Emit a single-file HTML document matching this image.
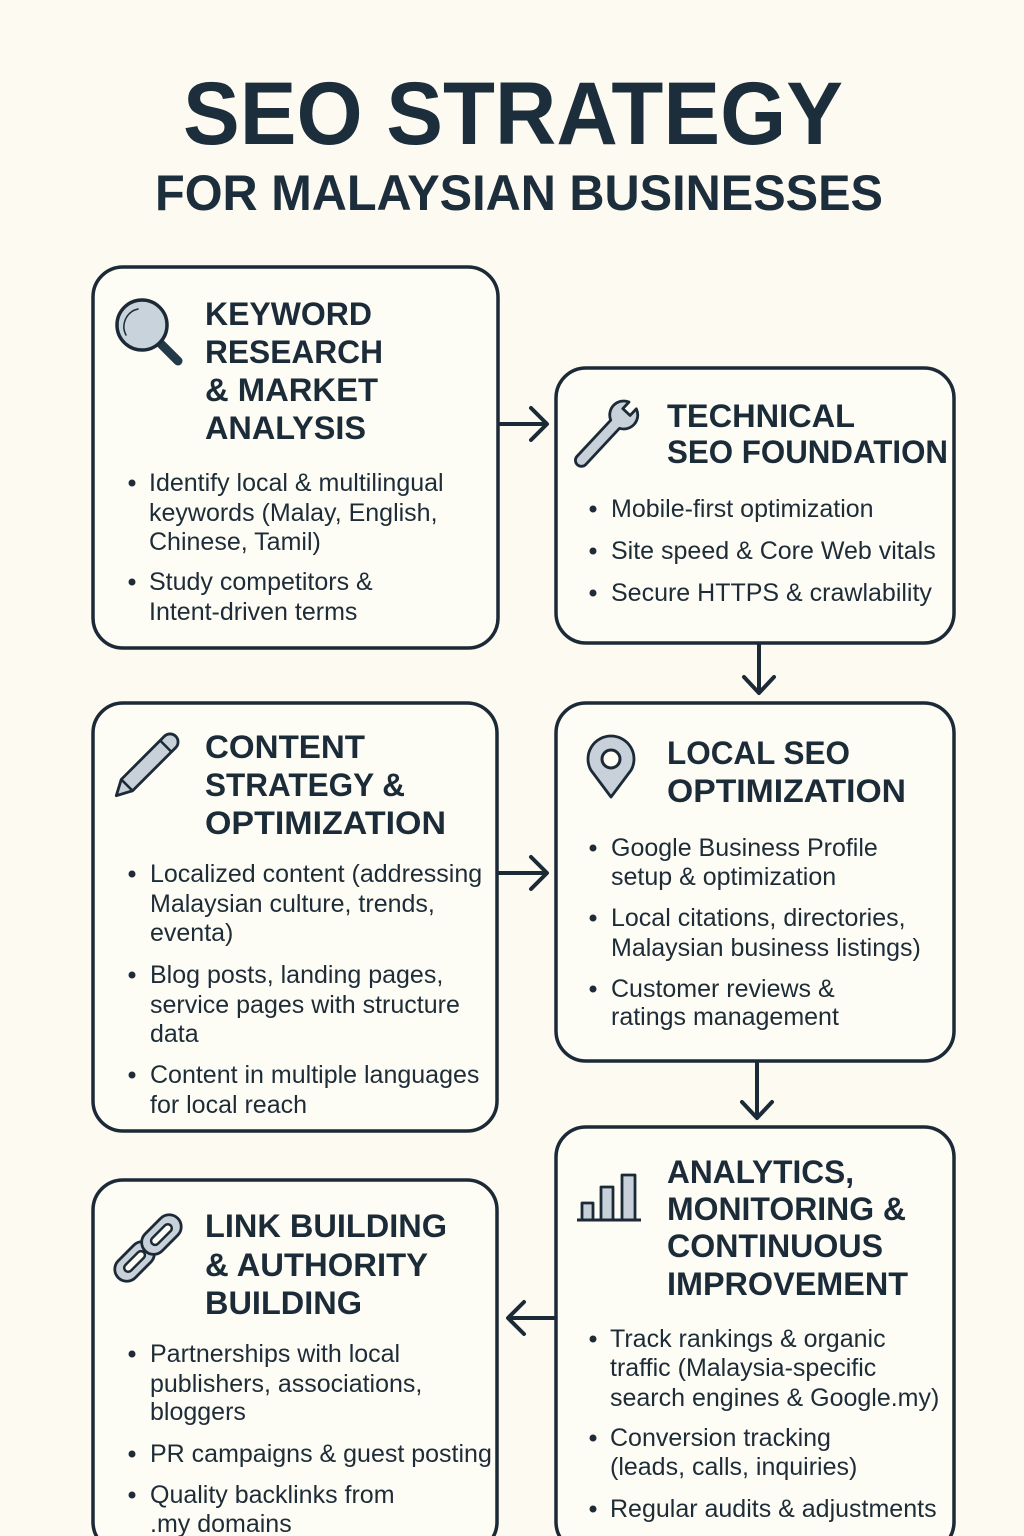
<!DOCTYPE html>
<html>
<head>
<meta charset="utf-8">
<style>
  html,body{margin:0;padding:0;background:#fcfaf1;}
  svg{display:block;}
  .h{font-family:"Liberation Sans",Arial,sans-serif;font-weight:bold;font-size:32px;fill:#1c2b38;}
  .b{font-family:"Liberation Sans",Arial,sans-serif;font-size:25px;fill:#1e2c38;}
  .box{fill:#fdfcf5;stroke:#1b2a36;stroke-width:3.5;}
  .ar{fill:none;stroke:#1b2a36;stroke-width:4;stroke-linecap:round;stroke-linejoin:round;}
  .ic{fill:#c8d1d9;stroke:#1b2a36;stroke-width:2.8;stroke-linejoin:round;}
  .dot{fill:#1e2c38;}
</style>
</head>
<body>
<svg width="1024" height="1536" viewBox="0 0 1024 1536" xmlns="http://www.w3.org/2000/svg">
  <rect x="0" y="0" width="1024" height="1536" fill="#fcfaf1"/>

  <!-- Title -->
  <text x="183" y="144" font-family="Liberation Sans, Arial, sans-serif" font-weight="bold" font-size="89" fill="#1c2d3b" textLength="660" lengthAdjust="spacingAndGlyphs">SEO STRATEGY</text>
  <text x="155" y="210" font-family="Liberation Sans, Arial, sans-serif" font-weight="bold" font-size="50" fill="#1c2d3b" textLength="728" lengthAdjust="spacingAndGlyphs">FOR MALAYSIAN BUSINESSES</text>

  <!-- Boxes -->
  <rect class="box" x="93" y="267" width="405" height="381" rx="30"/>
  <rect class="box" x="556" y="368" width="398" height="275" rx="30"/>
  <rect class="box" x="93" y="703" width="404" height="428" rx="30"/>
  <rect class="box" x="556" y="703" width="398" height="358" rx="30"/>
  <rect class="box" x="556" y="1127" width="398" height="425" rx="30"/>
  <rect class="box" x="93" y="1180" width="404" height="372" rx="30"/>

  <!-- Arrows -->
  <line class="ar" x1="500" y1="424" x2="546" y2="424"/>
  <polyline class="ar" points="531,408 547,424 531,440"/>

  <line class="ar" x1="759" y1="645" x2="759" y2="692"/>
  <polyline class="ar" points="744,677 759,693 774,677"/>

  <line class="ar" x1="499" y1="873" x2="546" y2="873"/>
  <polyline class="ar" points="531,857 547,873 531,889"/>

  <line class="ar" x1="757" y1="1063" x2="757" y2="1117"/>
  <polyline class="ar" points="742,1102 757,1118 772,1102"/>

  <line class="ar" x1="554" y1="1318" x2="509" y2="1318"/>
  <polyline class="ar" points="524,1302 508,1318 524,1334"/>

  <!-- Icon: magnifier -->
  <line x1="160" y1="343" x2="178" y2="361" stroke="#223a48" stroke-width="9" stroke-linecap="round"/>
  <circle cx="142" cy="325" r="25" fill="#c9d3db" stroke="#1b2a36" stroke-width="3.5"/>
  <path d="M126 335 A18 18 0 0 1 138 309" fill="none" stroke="#1b2a36" stroke-width="1.5" stroke-linecap="round"/>

  <!-- Icon: wrench -->
  <g transform="translate(606,434) rotate(-47)">
    <path class="ic" d="M -36 -6 L 13.35 -6 A 14 14 0 0 1 39.08 -5 L 30 -5 L 30 5 L 39.08 5 A 14 14 0 0 1 13.35 6 L -36 6 A 6 6 0 0 1 -36 -6 Z"/>
  </g>

  <!-- Icon: pencil -->
  <g transform="translate(146,766) rotate(-45)">
    <path class="ic" d="M -42 0 L -27 -8 L 34 -8 A 8 8 0 0 1 34 8 L -27 8 Z"/>
    <line x1="-27" y1="-8" x2="-27" y2="8" stroke="#1b2a36" stroke-width="2.5"/>
    <line x1="28" y1="-8" x2="28" y2="8" stroke="#1b2a36" stroke-width="2.5"/>
  </g>

  <!-- Icon: pin -->
  <path class="ic" d="M611 797 L590.8 770 A23 23 0 1 1 631.2 770 Z" stroke-width="3"/>
  <circle cx="611" cy="759" r="9" fill="#fdfcf5" stroke="#1b2a36" stroke-width="3"/>

  <!-- Icon: bar chart -->
  <rect class="ic" x="582" y="1203" width="11" height="17"/>
  <rect class="ic" x="601" y="1187" width="12" height="33"/>
  <rect class="ic" x="622" y="1175" width="13" height="45"/>
  <line x1="577" y1="1220" x2="641" y2="1220" stroke="#1b2a36" stroke-width="3"/>

  <!-- Icon: link -->
  <g transform="translate(148,1248) rotate(-45)">
    <rect class="ic" x="-42" y="-12" width="46" height="24" rx="12"/>
    <rect x="-32" y="-4" width="26" height="8" rx="4" fill="#fdfcf5" stroke="#1b2a36" stroke-width="2.5"/>
    <rect class="ic" x="-4" y="-12" width="46" height="24" rx="12"/>
    <rect x="6" y="-4" width="26" height="8" rx="4" fill="#fdfcf5" stroke="#1b2a36" stroke-width="2.5"/>
  </g>

  <!-- Box 1 -->
  <text class="h" x="205" y="325" textLength="167" lengthAdjust="spacingAndGlyphs">KEYWORD</text>
  <text class="h" x="205" y="363" textLength="178" lengthAdjust="spacingAndGlyphs">RESEARCH</text>
  <text class="h" x="205" y="401" textLength="173" lengthAdjust="spacingAndGlyphs">&amp; MARKET</text>
  <text class="h" x="205" y="439" textLength="161" lengthAdjust="spacingAndGlyphs">ANALYSIS</text>
  <circle class="dot" cx="132" cy="483" r="3.5"/>
  <text class="b" x="149" y="491">Identify local &amp; multilingual</text>
  <text class="b" x="149" y="521">keywords (Malay, English,</text>
  <text class="b" x="149" y="550">Chinese, Tamil)</text>
  <circle class="dot" cx="132" cy="582" r="3.5"/>
  <text class="b" x="149" y="590">Study competitors &amp;</text>
  <text class="b" x="149" y="620">Intent-driven terms</text>

  <!-- Box 2 -->
  <text class="h" x="667" y="427" textLength="188" lengthAdjust="spacingAndGlyphs">TECHNICAL</text>
  <text class="h" x="667" y="463" textLength="281" lengthAdjust="spacingAndGlyphs">SEO FOUNDATION</text>
  <circle class="dot" cx="593" cy="509" r="3.5"/>
  <text class="b" x="611" y="517">Mobile-first optimization</text>
  <circle class="dot" cx="593" cy="551" r="3.5"/>
  <text class="b" x="611" y="559">Site speed &amp; Core Web vitals</text>
  <circle class="dot" cx="593" cy="593" r="3.5"/>
  <text class="b" x="611" y="601">Secure HTTPS &amp; crawlability</text>

  <!-- Box 3 -->
  <text class="h" x="205" y="758" textLength="160" lengthAdjust="spacingAndGlyphs">CONTENT</text>
  <text class="h" x="205" y="796" textLength="200" lengthAdjust="spacingAndGlyphs">STRATEGY &amp;</text>
  <text class="h" x="205" y="834" textLength="241" lengthAdjust="spacingAndGlyphs">OPTIMIZATION</text>
  <circle class="dot" cx="132" cy="874" r="3.5"/>
  <text class="b" x="150" y="882">Localized content (addressing</text>
  <text class="b" x="150" y="912">Malaysian culture, trends,</text>
  <text class="b" x="150" y="941">eventa)</text>
  <circle class="dot" cx="132" cy="975" r="3.5"/>
  <text class="b" x="150" y="983">Blog posts, landing pages,</text>
  <text class="b" x="150" y="1013">service pages with structure</text>
  <text class="b" x="150" y="1042">data</text>
  <circle class="dot" cx="132" cy="1075" r="3.5"/>
  <text class="b" x="150" y="1083">Content in multiple languages</text>
  <text class="b" x="150" y="1113">for local reach</text>

  <!-- Box 4 -->
  <text class="h" x="667" y="764" textLength="183" lengthAdjust="spacingAndGlyphs">LOCAL SEO</text>
  <text class="h" x="667" y="802" textLength="239" lengthAdjust="spacingAndGlyphs">OPTIMIZATION</text>
  <circle class="dot" cx="593" cy="848" r="3.5"/>
  <text class="b" x="611" y="856">Google Business Profile</text>
  <text class="b" x="611" y="885">setup &amp; optimization</text>
  <circle class="dot" cx="593" cy="918" r="3.5"/>
  <text class="b" x="611" y="926">Local citations, directories,</text>
  <text class="b" x="611" y="956">Malaysian business listings)</text>
  <circle class="dot" cx="593" cy="989" r="3.5"/>
  <text class="b" x="611" y="997">Customer reviews &amp;</text>
  <text class="b" x="611" y="1025">ratings management</text>

  <!-- Box 5 -->
  <text class="h" x="667" y="1183" textLength="187" lengthAdjust="spacingAndGlyphs">ANALYTICS,</text>
  <text class="h" x="667" y="1220" textLength="239" lengthAdjust="spacingAndGlyphs">MONITORING &amp;</text>
  <text class="h" x="667" y="1257" textLength="216" lengthAdjust="spacingAndGlyphs">CONTINUOUS</text>
  <text class="h" x="667" y="1295" textLength="241" lengthAdjust="spacingAndGlyphs">IMPROVEMENT</text>
  <circle class="dot" cx="593" cy="1339" r="3.5"/>
  <text class="b" x="610" y="1347">Track rankings &amp; organic</text>
  <text class="b" x="610" y="1376">traffic (Malaysia-specific</text>
  <text class="b" x="610" y="1406">search engines &amp; Google.my)</text>
  <circle class="dot" cx="593" cy="1438" r="3.5"/>
  <text class="b" x="610" y="1446">Conversion tracking</text>
  <text class="b" x="610" y="1475">(leads, calls, inquiries)</text>
  <circle class="dot" cx="593" cy="1509" r="3.5"/>
  <text class="b" x="610" y="1517">Regular audits &amp; adjustments</text>

  <!-- Box 6 -->
  <text class="h" x="205" y="1237" textLength="242" lengthAdjust="spacingAndGlyphs">LINK BUILDING</text>
  <text class="h" x="205" y="1276" textLength="223" lengthAdjust="spacingAndGlyphs">&amp; AUTHORITY</text>
  <text class="h" x="205" y="1314" textLength="157" lengthAdjust="spacingAndGlyphs">BUILDING</text>
  <circle class="dot" cx="132" cy="1354" r="3.5"/>
  <text class="b" x="150" y="1362">Partnerships with local</text>
  <text class="b" x="150" y="1392">publishers, associations,</text>
  <text class="b" x="150" y="1420">bloggers</text>
  <circle class="dot" cx="132" cy="1454" r="3.5"/>
  <text class="b" x="150" y="1462">PR campaigns &amp; guest posting</text>
  <circle class="dot" cx="132" cy="1495" r="3.5"/>
  <text class="b" x="150" y="1503">Quality backlinks from</text>
  <text class="b" x="150" y="1532">.my domains</text>
</svg>
</body>
</html>
